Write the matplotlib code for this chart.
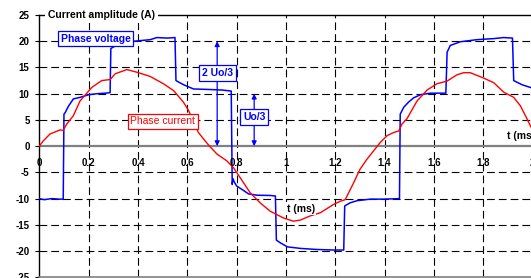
import matplotlib
matplotlib.use("Agg")
import matplotlib.pyplot as plt

plt.rcParams['font.family'] = ['Liberation Sans', 'DejaVu Sans']

# phase voltage (blue)
volt_t = [0, 0.02, 0.05, 0.08, 0.097, 0.100, 0.105, 0.118, 0.138, 0.165, 0.2, 0.233, 0.268, 0.287,
          0.290, 0.30, 0.327, 0.36, 0.395, 0.45, 0.476, 0.52, 0.550, 0.554, 0.585, 0.625, 0.69,
          0.74, 0.778, 0.782, 0.785, 0.79, 0.80, 0.82, 0.848, 0.882, 0.936, 0.957, 0.961, 0.976,
          1.006, 1.06, 1.127, 1.195, 1.234, 1.238, 1.26, 1.288, 1.342, 1.396, 1.460, 1.463, 1.477,
          1.497, 1.517, 1.545, 1.585, 1.648, 1.653, 1.666, 1.707, 1.774, 1.842, 1.882, 1.918,
          1.923, 1.957, 1.99, 2.0]
volt_v = [-10.0, -10.2, -10.0, -10.1, -10.1, 6.1, 6.4, 7.6, 9.0, 9.3, 9.8, 10.0, 10.1, 10.2,
          18.6, 18.9, 19.5, 19.9, 20.05, 20.3, 20.7, 20.6, 20.7, 12.5, 11.7, 10.9, 10.8,
          10.7, 10.5, -7.3, -6.2, -6.8, -7.6, -8.2, -9.1, -9.35, -9.4, -9.5, -17.9, -18.4,
          -19.2, -19.5, -19.7, -19.8, -19.8, -11.4, -10.8, -10.4, -10.1, -10.1, -10.0, 6.1, 7.4,
          8.4, 9.2, 9.8, 10.1, 10.1, 17.9, 19.2, 19.9, 20.3, 20.5, 20.7, 20.6,
          12.5, 11.7, 11.2, 11.1]

# phase current (red)
curr_t = [0, 0.016, 0.043, 0.084, 0.097, 0.111, 0.138, 0.165, 0.213, 0.253, 0.287, 0.308, 0.355,
          0.395, 0.449, 0.503, 0.544, 0.584, 0.605, 0.645, 0.672, 0.692, 0.72, 0.76, 0.787, 0.814,
          0.855, 0.895, 0.936, 0.99, 1.03, 1.058, 1.098, 1.139, 1.193, 1.22, 1.24, 1.274, 1.3,
          1.328, 1.355, 1.382, 1.41, 1.436, 1.457, 1.47, 1.49, 1.531, 1.572, 1.612, 1.653, 1.693,
          1.72, 1.747, 1.8, 1.842, 1.882, 1.923, 1.95, 1.977, 2.0]
curr_v = [0, 1.0, 2.3, 3.1, 3.0, 4.2, 5.8, 8.6, 11.2, 12.5, 12.7, 13.8, 14.6,
          14.1, 13.3, 11.9, 10.6, 8.4, 6.8, 2.6, 1.0, -0.1, -1.5, -2.8, -4.1, -6.0,
          -8.9, -10.8, -12.4, -13.7, -14.3, -14.1, -13.3, -12.7, -11.1, -10.5, -10.2, -7.0, -4.4,
          -2.5, -0.9, 0.7, 2.0, 2.6, 2.9, 4.2, 5.2, 8.6, 10.7, 11.9, 12.4, 13.6,
          14.0, 14.0, 13.0, 12.1, 10.3, 9.3, 7.7, 5.2, 3.0]

x_ticks = [0, 0.2, 0.4, 0.6, 0.8, 1, 1.2, 1.4, 1.6, 1.8, 2]
x_labels = ["0", "0.2", "0.4", "0.6", "0.8", "1", "1.2", "1.4", "1.6", "1.8", "2"]
y_ticks = [-25, -20, -15, -10, -5, 0, 5, 10, 15, 20, 25]

fig = plt.figure(figsize=(5.31, 2.78), dpi=100)
ax = fig.add_axes([39.3 / 531, 0.7 / 278, (532.7 - 39.3) / 531, (277.3 - 15) / 278])
ax.set_xlim(0, 2.0)
ax.set_ylim(-25, 25)

dash = (0, (7, 3.6))
for xt in x_ticks[1:-1]:
    ax.axvline(xt, color='black', lw=0.8, linestyle=dash, zorder=1)
for yt in y_ticks[1:-1]:
    if yt != 0:
        ax.axhline(yt, color='black', lw=0.8, linestyle=dash, zorder=1)
ax.axhline(0, color='#808080', lw=1.6, zorder=1)

ax.plot(volt_t, volt_v, color='#0000ff', lw=1.1, zorder=3)
ax.plot(curr_t, curr_v, color='#ff0000', lw=1.0, zorder=3)

for sp in ['right']:
    ax.spines[sp].set_visible(False)
ax.spines['left'].set_linewidth(1.0)
ax.spines['top'].set_linewidth(1.0)
ax.spines['bottom'].set_color('#808080')
ax.spines['bottom'].set_linewidth(1.2)

ax.set_yticks(y_ticks)
ax.set_yticklabels([str(v) for v in y_ticks], fontweight='bold', fontsize=7)
ax.tick_params(axis='y', direction='out', length=3, width=0.8, pad=4)
ax.set_xticks([])
for xt, lab in zip(x_ticks, x_labels):
    ax.annotate(lab, (xt, 0), xytext=(0, -12), textcoords='offset points',
                ha='center', va='center', fontsize=7, fontweight='bold', zorder=4,
                annotation_clip=False)

fig.text(47.7 / 531, 1 - 15 / 278, "Current amplitude (A)", ha='left', va='center',
         fontsize=7.5, fontweight='bold',
         bbox=dict(facecolor='white', edgecolor='none', pad=2))

ax.text(0.228, 20.5, "Phase voltage", color='#0000ff', fontsize=7.5, fontweight='bold',
        ha='center', va='center', zorder=5,
        bbox=dict(facecolor='white', edgecolor='#0000ff', lw=0.9, boxstyle='square,pad=0.25'))
ax.text(0.5, 4.7, "Phase current", color='#ff0000', fontsize=7.5,
        ha='center', va='center', zorder=5,
        bbox=dict(facecolor='white', edgecolor='#ff0000', lw=0.9, boxstyle='square,pad=0.25'))

ax.annotate('', xy=(0.721, 20), xytext=(0.721, 0), zorder=4,
            arrowprops=dict(arrowstyle='<|-|>', color='#0000ff', lw=0.9,
                            mutation_scale=7, shrinkA=0, shrinkB=0))
ax.annotate('', xy=(0.871, 10), xytext=(0.871, 0), zorder=4,
            arrowprops=dict(arrowstyle='<|-|>', color='#0000ff', lw=0.9,
                            mutation_scale=7, shrinkA=0, shrinkB=0))
ax.text(0.721, 14.0, "2 Uo/3", color='#0000ff', fontsize=7.5, fontweight='bold',
        ha='center', va='center', zorder=5,
        bbox=dict(facecolor='white', edgecolor='#0000ff', lw=0.9, boxstyle='square,pad=0.3'))
ax.text(0.871, 5.5, "Uo/3", color='#0000ff', fontsize=7.5, fontweight='bold',
        ha='center', va='center', zorder=5,
        bbox=dict(facecolor='white', edgecolor='#0000ff', lw=0.9, boxstyle='square,pad=0.3'))

ax.text(1.06, -11.9, "t (ms)", fontsize=7.5, fontweight='bold', ha='center', va='center',
        zorder=5, bbox=dict(facecolor='white', edgecolor='none', pad=1))
ax.text(1.895, 1.9, "t (ms)", fontsize=7.5, fontweight='bold', ha='left', va='center',
        zorder=5, clip_on=False)

fig.savefig("out.png", dpi=100)
